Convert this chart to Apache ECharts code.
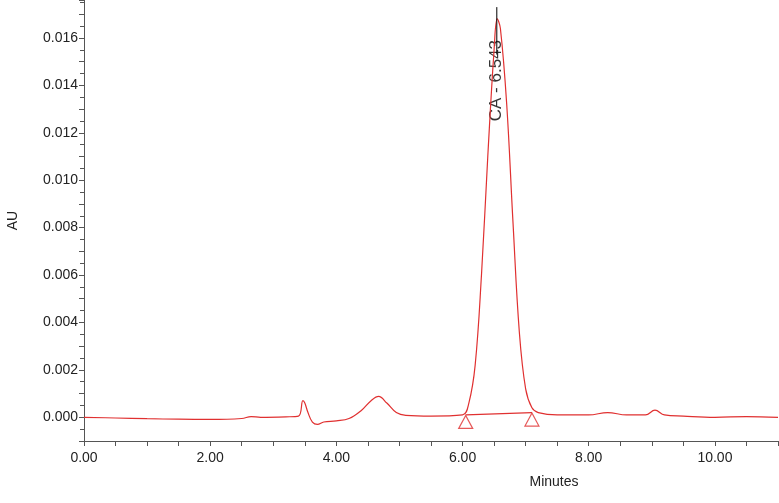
<!DOCTYPE html>
<html>
<head>
<meta charset="utf-8">
<script src="https://cdn.jsdelivr.net/npm/echarts@6/dist/echarts.min.js"></script>
<style>html,body{margin:0;background:#fff}#c{width:779px;height:503px}</style>
</head>
<body>
<div id="c"></div>
<script>
// chromatogram trace (minutes, AU)
const times = [0, 0.5, 1.0, 1.5, 2.0, 2.5, 2.65, 2.8, 3.2, 3.4, 3.47, 3.5, 3.55, 3.62, 3.7, 3.8, 4.0, 4.2, 4.4, 4.55, 4.67, 4.8, 4.95, 5.1, 5.5, 6.0, 6.1, 6.2, 6.3, 6.4, 6.5, 6.55, 6.6, 6.7, 6.8, 6.9, 7.0, 7.1, 7.2, 7.5, 8.0, 8.3, 8.6, 8.9, 9.05, 9.2, 9.5, 10.0, 10.5, 11.0];
const absorb = [0, -0.00003, -0.00006, -0.00008, -0.00009, -0.00005, 0.00003, 0.0, 0.00002, 0.00005, 0.0007, 0.0006, 0.0002, -0.0002, -0.0003, -0.0002, -0.00015, -0.00005, 0.0003, 0.0007, 0.00088, 0.0006, 0.0002, 0.00008, 0.00005, 0.0001, 0.0006, 0.0022, 0.006, 0.011, 0.0155, 0.0168, 0.0164, 0.0132, 0.0082, 0.0036, 0.0012, 0.0004, 0.0002, 0.0001, 0.0001, 0.0002, 0.0001, 0.0001, 0.0003, 0.0001, 0.00005, 0.0, 0.00003, 0.0];
const baseline = [[6.05, 0.0001], [7.1, 0.0002]];
const peakName = 'CA - 6.543';
const peakTime = 6.543;

const chart = echarts.init(document.getElementById('c'));
const font = 'Liberation Sans';
chart.setOption({
  animation: false,
  grid: {left: 84, right: 1, top: 0, bottom: 62, outerBoundsMode: 'none', containLabel: false},
  xAxis: {
    type: 'value', min: 0, max: 11.0, interval: 2,
    name: 'Minutes', nameLocation: 'middle', nameGap: 34,
    nameTextStyle: {color: '#222', fontSize: 14, fontFamily: font, padding: [0, 0, 0, 246]},
    axisLine: {onZero: false, lineStyle: {color: '#555'}},
    axisTick: {length: 5, lineStyle: {color: '#555'}},
    minorTick: {show: true, splitNumber: 4, length: 5, lineStyle: {color: '#555'}},
    axisLabel: {color: '#222', fontSize: 14, fontFamily: font, margin: 10, showMaxLabel: false,
      formatter: v => v.toFixed(2)},
    splitLine: {show: false}
  },
  yAxis: {
    type: 'value', min: -0.001, max: 0.0176, interval: 0.001,
    name: 'AU', nameLocation: 'middle', nameGap: 64, nameRotate: 90,
    nameTextStyle: {color: '#222', fontSize: 14, fontFamily: font},
    axisLine: {show: true, lineStyle: {color: '#555'}},
    axisTick: {length: 5, lineStyle: {color: '#555'}},
    minorTick: {show: true, splitNumber: 2, length: 4, lineStyle: {color: '#555'}},
    axisLabel: {color: '#222', fontSize: 14, fontFamily: font, margin: 6, showMaxLabel: false,
      formatter: v => (Math.round(v * 1000) % 2 === 0 && v >= -1e-9 && v < 0.0175) ? v.toFixed(3) : ''},
    splitLine: {show: false}
  },
  series: [
    {type: 'line', data: times.map((t, i) => [t, absorb[i]]), smooth: 0.4, symbol: 'none',
      lineStyle: {color: '#e03030', width: 1.2}},
    {type: 'line', data: baseline, symbol: 'none', lineStyle: {color: '#e03030', width: 1.2}},
    {type: 'scatter', data: baseline, symbol: 'triangle', symbolSize: [14, 13], symbolOffset: [0, 7],
      itemStyle: {color: 'transparent', borderColor: '#e03030', borderWidth: 1.2}},
    {type: 'line', data: [[peakTime, 0.0153], [peakTime, 0.0173]], symbol: 'none',
      lineStyle: {color: '#000', width: 1}},
    {type: 'scatter', data: [[peakTime, 0.0142]], symbolSize: 0,
      label: {show: true, formatter: peakName, rotate: 90, position: 'inside', color: '#000',
        fontSize: 17, fontFamily: font}}
  ]
});
</script>
</body>
</html>
